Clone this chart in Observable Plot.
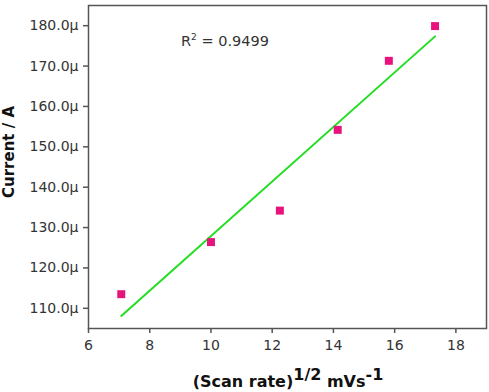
<!DOCTYPE html>
<html><head><meta charset="utf-8">
<script src="https://cdn.jsdelivr.net/npm/d3@7"></script>
<script src="https://cdn.jsdelivr.net/npm/@observablehq/plot@0.6"></script>
<style>
body{margin:0;background:#fff;}
svg{font-family:"DejaVu Sans",Verdana,sans-serif;}
</style>
</head><body><div id="chart"></div>
<script>
const scanRateSqrt = [7.07, 10.0, 12.25, 14.14, 15.81, 17.32];
const currentMicroA = [113.5, 126.4, 134.2, 154.2, 171.3, 179.9];
const xTicks = [6, 8, 10, 12, 14, 16, 18];
const yTicks = [110, 120, 130, 140, 150, 160, 170, 180];
const r2Label = "0.9499";

const data = scanRateSqrt.map((x, i) => ({x, y: currentMicroA[i]}));

const chart = Plot.plot({
  width: 489, height: 392,
  marginLeft: 88, marginTop: 5, marginRight: 3, marginBottom: 64,
  style: {fontFamily: '"DejaVu Sans", Verdana, sans-serif', fontSize: "14px", color: "#333", background: "#fff"},
  x: {domain: [6, 19], ticks: xTicks, label: null},
  y: {domain: [105, 185], ticks: yTicks, label: null, tickFormat: d => d.toFixed(1) + "µ"},
  marks: [
    Plot.linearRegressionY(data, {x: "x", y: "y", ci: 0, stroke: "#22dd22", strokeWidth: 2}),
    Plot.dot(data, {x: "x", y: "y", symbol: "square", r: 4.5, fill: "#e8127c", stroke: "none"}),
    Plot.frame({stroke: "#555", strokeWidth: 1.5}),
    Plot.axisX({ticks: xTicks, tickSize: 5, tickPadding: 7, stroke: "#555", strokeWidth: 1.5, fontSize: 14, label: null}),
    Plot.axisY({ticks: yTicks, tickSize: 5, tickPadding: 5, stroke: "#555", strokeWidth: 1.5, fontSize: 14, label: null, tickFormat: d => d.toFixed(1) + "µ"})
  ]
});
document.getElementById("chart").appendChild(chart);

const svg = d3.select(chart);
// R² annotation
const r2 = svg.append("text").attr("x", 181).attr("y", 46).attr("text-anchor", "start")
  .attr("font-size", 14.5).attr("fill", "#333");
r2.append("tspan").text("R");
r2.append("tspan").attr("font-size", 9).attr("dy", -6).text("2");
r2.append("tspan").attr("dy", 6).text(" = " + r2Label);
// y axis label
svg.append("text").attr("transform", "translate(14,152) rotate(-90)").attr("text-anchor", "middle")
  .attr("font-weight", "bold").attr("font-size", 15).attr("fill", "#111").text("Current / A");
// x axis label
const xl = svg.append("text").attr("x", 288).attr("y", 387).attr("text-anchor", "middle")
  .attr("font-weight", "bold").attr("font-size", 16).attr("fill", "#111");
xl.append("tspan").text("(Scan rate)");
xl.append("tspan").attr("dy", -7).text("1/2");
xl.append("tspan").attr("dy", 7).text(" mVs");
xl.append("tspan").attr("dy", -7).text("-1");
</script>
</body></html>
